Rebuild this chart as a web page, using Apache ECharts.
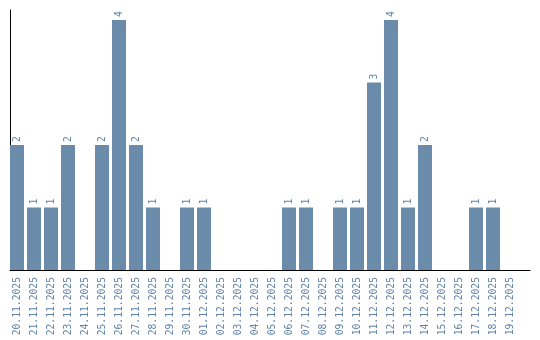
<!DOCTYPE html>
<html><head><meta charset="utf-8">
<script src="https://cdn.jsdelivr.net/npm/echarts@6/dist/echarts.min.js"></script>
<style>html,body{margin:0;padding:0;background:#fff}#c{width:540px;height:340px}</style>
</head><body><div id="c"></div>
<script>
var categories = ["20.11.2025","21.11.2025","22.11.2025","23.11.2025","24.11.2025","25.11.2025","26.11.2025","27.11.2025","28.11.2025","29.11.2025","30.11.2025","01.12.2025","02.12.2025","03.12.2025","04.12.2025","05.12.2025","06.12.2025","07.12.2025","08.12.2025","09.12.2025","10.12.2025","11.12.2025","12.12.2025","13.12.2025","14.12.2025","15.12.2025","16.12.2025","17.12.2025","18.12.2025","19.12.2025"];
var values = [2,1,1,2,0,2,4,2,1,0,1,1,0,0,0,0,1,1,0,1,1,3,4,1,2,0,0,1,1,0];

var labelColor = '#5f82a8';
var font = "'DejaVu Sans Mono', monospace";
var chart = echarts.init(document.getElementById('c'), null, {renderer:'canvas'});
chart.setOption({
  animation:false,
  grid:[
    {left:8.5, right:21.5, top:10, bottom:70},
    {left:10, right:10, top:10, bottom:70}
  ],
  xAxis:[
    {type:'category', gridIndex:0, data:categories,
     axisLine:{show:false}, axisTick:{show:false},
     axisLabel:{rotate:90, interval:0, margin:7, color:labelColor, fontFamily:font, fontSize:9.7}},
    {type:'category', gridIndex:1, data:['a'],
     axisLine:{show:true, lineStyle:{color:'#000', width:1}}, axisTick:{show:false}, axisLabel:{show:false}}
  ],
  yAxis:[
    {type:'value', gridIndex:0, min:0, max:4.16, show:false, splitLine:{show:false}},
    {type:'value', gridIndex:1, min:0, max:1, splitLine:{show:false},
     axisLine:{show:true, lineStyle:{color:'#000', width:1}}, axisTick:{show:false}, axisLabel:{show:false}}
  ],
  series:[{
    type:'bar', xAxisIndex:0, yAxisIndex:0, data:values, barWidth:14,
    itemStyle:{color:'#6a8baa'},
    label:{show:true, position:'top', rotate:90, align:'left', verticalAlign:'middle', distance:3,
      color:labelColor, fontFamily:font, fontSize:9.7,
      formatter:function(p){return p.value>0?String(p.value):'';}}
  }]
});
</script></body></html>
